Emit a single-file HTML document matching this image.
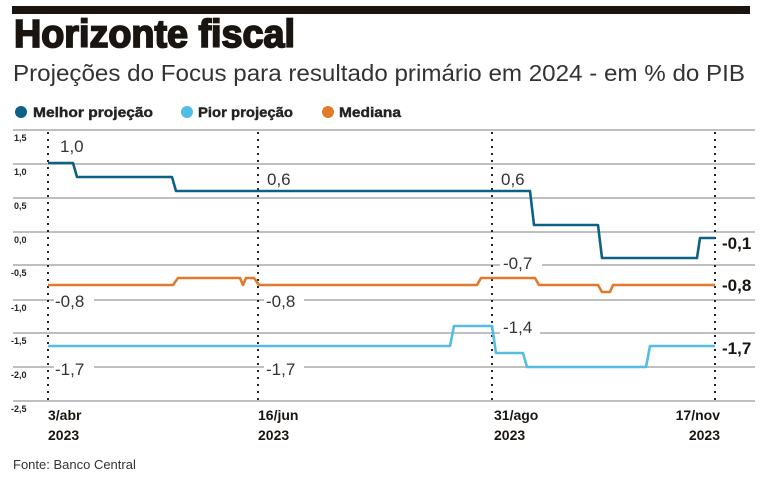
<!DOCTYPE html>
<html><head><meta charset="utf-8"><style>
body{margin:0;background:#fff;width:778px;height:481px;overflow:hidden;font-family:"Liberation Sans",sans-serif;}
</style></head><body>
<svg width="778" height="481" xmlns="http://www.w3.org/2000/svg" font-family="Liberation Sans, sans-serif">
<rect x="12" y="6" width="738" height="8" fill="#1a1510"/>
<text x="14" y="47" font-size="39" font-weight="bold" fill="#1a1510" textLength="281" lengthAdjust="spacingAndGlyphs" stroke="#1a1510" stroke-width="1.8">Horizonte fiscal</text>
<text x="13" y="81" font-size="23" fill="#333" textLength="732" lengthAdjust="spacingAndGlyphs">Projeções do Focus para resultado primário em 2024 - em % do PIB</text>
<circle cx="21" cy="112" r="6" fill="#0d6185"/>
<text x="33" y="117" font-size="14" font-weight="bold" fill="#222" textLength="120" lengthAdjust="spacingAndGlyphs" stroke="#222" stroke-width="0.4">Melhor projeção</text>
<circle cx="187" cy="112" r="6" fill="#4fbde6"/>
<text x="198" y="117" font-size="14" font-weight="bold" fill="#222" textLength="95" lengthAdjust="spacingAndGlyphs" stroke="#222" stroke-width="0.4">Pior projeção</text>
<circle cx="328" cy="112" r="6" fill="#e27a2c"/>
<text x="339" y="117" font-size="14" font-weight="bold" fill="#222" textLength="62" lengthAdjust="spacingAndGlyphs" stroke="#222" stroke-width="0.4">Mediana</text>
<g stroke="#999" stroke-width="1.3">
<line x1="13" x2="755" y1="130" y2="130"/><line x1="13" x2="755" y1="164" y2="164"/>
<line x1="13" x2="755" y1="198" y2="198"/><line x1="13" x2="755" y1="232" y2="232"/>
<line x1="13" x2="755" y1="265" y2="265"/><line x1="13" x2="755" y1="300" y2="300"/>
<line x1="13" x2="755" y1="333" y2="333"/><line x1="13" x2="755" y1="367" y2="367"/>
<line x1="13" x2="755" y1="401" y2="401"/>
</g>
<g font-size="9" font-weight="bold" fill="#222">
<text x="14" y="141">1,5</text><text x="14" y="175">1,0</text><text x="14" y="209">0,5</text>
<text x="14" y="243">0,0</text><text x="11" y="276">-0,5</text><text x="11" y="311">-1,0</text>
<text x="11" y="344">-1,5</text><text x="11" y="378">-2,0</text><text x="11" y="412">-2,5</text>
</g>
<g stroke="#222" stroke-width="2" stroke-dasharray="2,5">
<line x1="48" x2="48" y1="132" y2="402"/><line x1="258" x2="258" y1="132" y2="402"/>
<line x1="492" x2="492" y1="132" y2="402"/><line x1="715" x2="715" y1="132" y2="402"/>
</g>
<g fill="none" stroke-width="2.6" stroke-linejoin="round">
<polyline stroke="#0d6185" points="48,163 73,163 77,177 172,177 176,191 530,191 534,225 598,225 602,258 697,258 700,238 715,238"/>
<polyline stroke="#e27a2c" points="48,285 173,285 178,278 240,278 243,285 246,278 254,278 259,285 477,285 481,278 535,278 539,285 598,285 602,292 610,292 613,285 715,285"/>
<polyline stroke="#55bce3" points="48,346 450,346 454,326 492,326 496,353 523,353 527,367 646,367 650,346 715,346"/>
</g>
<g font-size="17" fill="#333">
<rect x="58" y="135" width="32" height="20" fill="#fff"/><text x="60" y="152">1,0</text>
<rect x="264" y="167" width="32" height="19" fill="#fff"/><text x="267" y="185">0,6</text>
<rect x="498" y="167" width="32" height="19" fill="#fff"/><text x="501" y="185">0,6</text>
<rect x="500" y="252" width="42" height="20" fill="#fff"/><text x="503" y="269">-0,7</text>
<rect x="54" y="290" width="40" height="20" fill="#fff"/><text x="55" y="307">-0,8</text>
<rect x="264" y="290" width="40" height="20" fill="#fff"/><text x="266" y="307">-0,8</text>
<rect x="500" y="316" width="40" height="20" fill="#fff"/><text x="503" y="333">-1,4</text>
<rect x="54" y="358" width="40" height="20" fill="#fff"/><text x="55" y="375">-1,7</text>
<rect x="264" y="358" width="40" height="20" fill="#fff"/><text x="266" y="375">-1,7</text>
</g>
<g font-size="17" font-weight="bold" fill="#1a1510">
<text x="722" y="249">-0,1</text><text x="722" y="291">-0,8</text><text x="722" y="354">-1,7</text>
</g>
<g font-size="14" font-weight="bold" fill="#1a1510">
<text x="48" y="420">3/abr</text><text x="48" y="440">2023</text>
<text x="258" y="420">16/jun</text><text x="258" y="440">2023</text>
<text x="494" y="420">31/ago</text><text x="494" y="440">2023</text>
<text x="720" y="420" text-anchor="end">17/nov</text><text x="720" y="440" text-anchor="end">2023</text>
</g>
<text x="13" y="469" font-size="13" fill="#333">Fonte: Banco Central</text>
</svg>
</body></html>
